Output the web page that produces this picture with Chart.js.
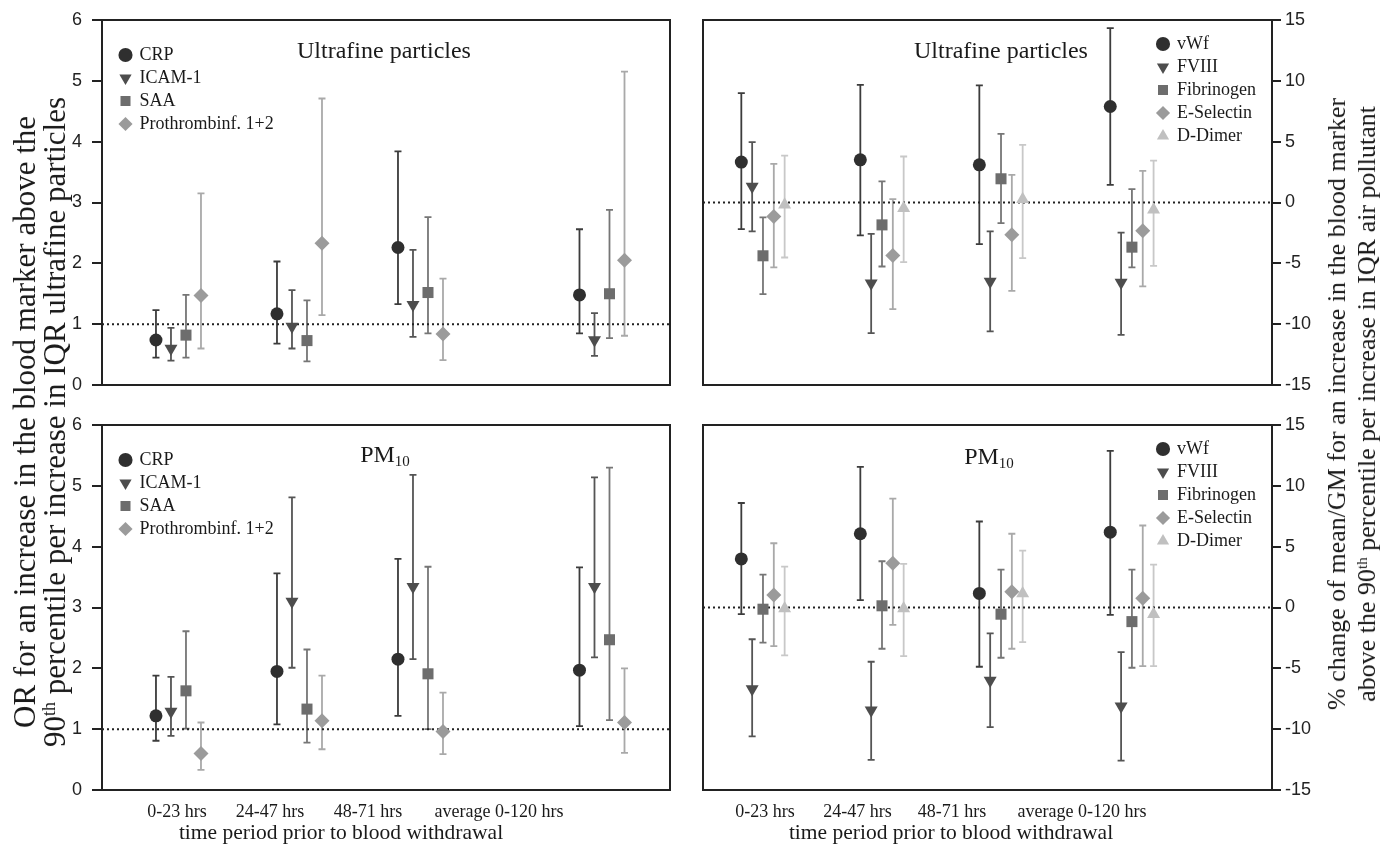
<!DOCTYPE html>
<html>
<head>
<meta charset="utf-8">
<script src="https://cdn.jsdelivr.net/npm/chart.js@4.4.0/dist/chart.umd.min.js"></script>
<style>
  body { margin: 0; background: #fff; width: 1381px; height: 851px; position: relative; overflow: hidden;
         font-family: "Liberation Serif", "Times New Roman", serif; color: #1a1a1a; }
  canvas { position: absolute; }
  .lbl { position: absolute; white-space: nowrap; transform: translate(-50%, -50%); }
  .vt { position: absolute; white-space: nowrap; text-align: center; line-height: 30px;
        transform: translate(-50%, -50%) rotate(-90deg); }
  sub { font-size: 15px; vertical-align: -4px; }
  sup { font-size: 0.58em; vertical-align: 0.55em; line-height: 0; }
</style>
</head>
<body>
<canvas id="tl" width="655" height="415" style="left:40px;top:-5px"></canvas>
<canvas id="tr" width="662" height="415" style="left:678px;top:-5px"></canvas>
<canvas id="bl" width="655" height="435" style="left:40px;top:400px"></canvas>
<canvas id="br" width="662" height="435" style="left:678px;top:400px"></canvas>

<div class="lbl" style="left:384px;top:50px;font-size:24px">Ultrafine particles</div>
<div class="lbl" style="left:1001px;top:50px;font-size:24px">Ultrafine particles</div>
<div class="lbl" style="left:385px;top:455px;font-size:24px">PM<sub>10</sub></div>
<div class="lbl" style="left:989px;top:457px;font-size:24px">PM<sub>10</sub></div>

<div class="lbl" style="left:341px;top:832px;font-size:21.5px">time period prior to blood withdrawal</div>
<div class="lbl" style="left:951px;top:832px;font-size:21.5px">time period prior to blood withdrawal</div>

<div class="vt" style="left:40px;top:422px;font-size:31px">OR for an increase in the blood marker above the<br>90<sup>th</sup> percentile per increase in IQR ultrafine particles</div>
<div class="vt" style="left:1352px;top:404px;font-size:26px">% change of mean/GM for an increase in the blood marker<br>above the 90<sup>th</sup> percentile per increase in IQR air pollutant</div>

<script>
// time periods (x axis)
const periodLabels = ['0-23 hrs', '24-47 hrs', '48-71 hrs', 'average 0-120 hrs'];
const groupsL = [1, 2, 3, 4.5];
const groupsR = [1, 2, 3, 4.1];
const labelPosL = [0.988, 1.756, 2.566, 3.649];
const labelPosR = [1.017, 1.794, 2.588, 3.681];

const namesL = ['CRP', 'ICAM-1', 'SAA', 'Prothrombinf. 1+2'];
const namesR = ['vWf', 'FVIII', 'Fibrinogen', 'E-Selectin', 'D-Dimer'];

// [estimate, lower, upper] per time period
// ultrafine particles, OR
const ufpCRP  = [[0.74, 0.45, 1.23], [1.17, 0.68, 2.03], [2.26, 1.33, 3.84], [1.48, 0.85, 2.56]];
const ufpICAM = [[0.60, 0.40, 0.94], [0.96, 0.60, 1.56], [1.32, 0.79, 2.22], [0.74, 0.48, 1.18]];
const ufpSAA  = [[0.82, 0.45, 1.48], [0.73, 0.39, 1.39], [1.52, 0.85, 2.76], [1.50, 0.77, 2.88]];
const ufpPro  = [[1.47, 0.60, 3.15], [2.33, 1.15, 4.71], [0.84, 0.41, 1.75], [2.05, 0.81, 5.15]];
// ultrafine particles, % change
const ufpVWF  = [[3.32, -2.19, 8.99], [3.51, -2.71, 9.67], [3.10, -3.42, 9.62], [7.89, 1.45, 14.33]];
const ufpFVIII= [[1.32, -2.38, 4.96], [-6.63, -10.74, -2.58], [-6.49, -10.60, -2.38], [-6.58, -10.88, -2.47]];
const ufpFib  = [[-4.38, -7.53, -1.23], [-1.84, -5.26, 1.73], [1.95, -1.70, 5.64], [-3.67, -5.34, 1.10]];
const ufpESel = [[-1.15, -5.34, 3.18], [-4.36, -8.77, 0.27], [-2.66, -7.26, 2.27], [-2.33, -6.90, 2.60]];
const ufpDD   = [[-0.19, -4.52, 3.86], [-0.47, -4.90, 3.78], [0.27, -4.58, 4.74], [-0.60, -5.21, 3.45]];
// PM10, OR
const pmCRP   = [[1.22, 0.81, 1.88], [1.95, 1.08, 3.56], [2.15, 1.22, 3.80], [1.97, 1.05, 3.66]];
const pmICAM  = [[1.29, 0.89, 1.86], [3.10, 2.01, 4.81], [3.34, 2.15, 5.18], [3.34, 2.18, 5.14]];
const pmSAA   = [[1.63, 1.01, 2.61], [1.33, 0.78, 2.31], [1.91, 1.00, 3.67], [2.47, 1.15, 5.30]];
const pmPro   = [[0.60, 0.33, 1.11], [1.14, 0.67, 1.88], [0.96, 0.59, 1.60], [1.11, 0.61, 2.00]];
// PM10, % change
const pmVWF   = [[3.99, -0.55, 8.59], [6.06, 0.61, 11.56], [1.16, -4.87, 7.07], [6.19, -0.61, 12.88]];
const pmFVIII = [[-6.69, -10.60, -2.61], [-8.45, -12.52, -4.46], [-6.00, -9.83, -2.12], [-8.12, -12.58, -3.66]];
const pmFib   = [[-0.14, -2.89, 2.70], [0.14, -3.39, 3.80], [-0.55, -4.13, 3.11], [-1.16, -4.95, 3.11]];
const pmESel  = [[1.02, -3.17, 5.28], [3.63, -1.43, 8.95], [1.29, -3.39, 6.06], [0.77, -4.82, 6.74]];
const pmDD    = [[-0.08, -3.94, 3.36], [-0.08, -3.99, 3.58], [1.16, -2.84, 4.68], [-0.55, -4.82, 3.52]];

// marker look per series
const stylesL = [
  { style: 'circle', rot: 0, r: 6.5, color: '#2f2f2f', err: '#3c3c3c' },
  { style: 'triangle', rot: 180, r: 7.5, color: '#4d4d4d', err: '#555555' },
  { style: 'rect', rot: 0, r: 7.8, color: '#6d6d6d', err: '#767676' },
  { style: 'rectRot', rot: 0, r: 7.5, color: '#9b9b9b', err: '#a9a9a9' }
];
const stylesR = [
  { style: 'circle', rot: 0, r: 6.5, color: '#2f2f2f', err: '#3c3c3c' },
  { style: 'triangle', rot: 180, r: 7.5, color: '#4d4d4d', err: '#555555' },
  { style: 'rect', rot: 0, r: 7.8, color: '#6d6d6d', err: '#767676' },
  { style: 'rectRot', rot: 0, r: 7.5, color: '#9b9b9b', err: '#a9a9a9' },
  { style: 'triangle', rot: 0, r: 7.5, color: '#c0c0c0', err: '#c8c8c8' }
];
const offsetsL = [-0.186, -0.062, 0.062, 0.186];
const offsetsR = [-0.182, -0.091, 0, 0.091, 0.182];

const errorBars = {
  id: 'errorBars',
  beforeDatasetsDraw(chart) {
    const { ctx, scales: { x, y } } = chart;
    ctx.save();
    ctx.lineWidth = 1.8;
    chart.data.datasets.forEach(ds => {
      if (!ds.errLo) return;
      ctx.strokeStyle = ds.errColor;
      ds.data.forEach((p, j) => {
        const px = x.getPixelForValue(p.x);
        const y1 = y.getPixelForValue(ds.errLo[j]);
        const y2 = y.getPixelForValue(ds.errHi[j]);
        ctx.beginPath();
        ctx.moveTo(px, y1); ctx.lineTo(px, y2);
        ctx.moveTo(px - 3.5, y1); ctx.lineTo(px + 3.5, y1);
        ctx.moveTo(px - 3.5, y2); ctx.lineTo(px + 3.5, y2);
        ctx.stroke();
      });
    });
    ctx.restore();
  }
};

const frame = {
  id: 'frame',
  beforeDatasetsDraw(chart) {
    const { ctx, chartArea: a } = chart;
    ctx.save();
    ctx.strokeStyle = '#222';
    ctx.lineWidth = 2;
    ctx.strokeRect(a.left, a.top, a.right - a.left, a.bottom - a.top);
    ctx.restore();
  }
};

// put the legend inside the plot, top left or top right
const legendPlace = {
  id: 'legendPlace',
  afterLayout(chart, args, opts) {
    const lg = chart.legend, ca = chart.chartArea;
    if (!lg) return;
    const w = lg.width;
    lg.left = opts.side === 'right' ? ca.right - opts.dx : ca.left + opts.dx;
    lg.top = ca.top + opts.dy;
    lg.right = lg.left + w;
    lg.bottom = ca.bottom;
  }
};

function makePanel(id, cfg) {
  const datasets = cfg.series.map((vals, k) => {
    const s = cfg.styles[k];
    return {
      type: 'scatter',
      label: cfg.names[k],
      data: vals.map((v, j) => ({ x: cfg.groups[j] + cfg.offsets[k], y: v[0] })),
      errLo: vals.map(v => v[1]),
      errHi: vals.map(v => v[2]),
      errColor: s.err,
      pointStyle: s.style,
      pointRotation: s.rot,
      pointRadius: s.r,
      pointHoverRadius: s.r,
      backgroundColor: s.color,
      borderColor: s.color,
      borderWidth: 0
    };
  });
  datasets.push({
    type: 'line', label: 'ref',
    data: [{ x: cfg.xMin, y: cfg.ref }, { x: cfg.xMax, y: cfg.ref }],
    borderColor: '#222', borderWidth: 2, borderDash: [2, 3],
    pointRadius: 0, fill: false
  });

  new Chart(document.getElementById(id), {
    type: 'scatter',
    data: { datasets },
    plugins: [errorBars, frame, legendPlace],
    options: {
      responsive: false,
      animation: false,
      devicePixelRatio: 1,
      layout: { padding: cfg.padding },
      plugins: {
        tooltip: { enabled: false },
        legend: {
          position: 'chartArea',
          align: 'start',
          labels: {
            usePointStyle: true, boxWidth: 10, boxHeight: 10, padding: 5,
            color: '#1a1a1a',
            font: { family: 'Liberation Serif', size: 18 },
            filter: item => item.text !== 'ref'
          }
        },
        legendPlace: cfg.legend
      },
      scales: {
        x: {
          type: 'linear', min: cfg.xMin, max: cfg.xMax,
          display: cfg.showX,
          grid: { display: false, drawTicks: false },
          border: { display: false },
          afterBuildTicks: s => { s.ticks = cfg.labelPos.map(v => ({ value: v })); },
          afterFit: s => { s.height = cfg.showX ? 45 : 0; },
          ticks: {
            autoSkip: false, maxRotation: 0, padding: 11,
            color: '#1a1a1a',
            font: { family: 'Liberation Serif', size: 18 },
            callback: (v, i) => periodLabels[i]
          }
        },
        y: {
          position: cfg.yPos, min: cfg.yMin, max: cfg.yMax,
          afterFit: s => { s.width = cfg.yWidth; },
          grid: { drawOnChartArea: false, drawTicks: true, tickLength: cfg.tickLen, color: '#222', lineWidth: 2 },
          border: { display: false },
          ticks: {
            stepSize: cfg.step, padding: cfg.tickPad, color: '#222',
            font: { family: 'Liberation Sans', size: 18 }
          }
        }
      }
    }
  });
}

const leftBase = {
  names: namesL, styles: stylesL, offsets: offsetsL, groups: groupsL, labelPos: labelPosL,
  xMin: 0.368, xMax: 5.062, ref: 1, yMin: 0, yMax: 6, step: 1,
  yPos: 'left', yWidth: 62, tickLen: 10, tickPad: 10,
  legend: { side: 'left', dx: 13.5, dy: 21 }
};
const rightBase = {
  names: namesR, styles: stylesR, offsets: offsetsR, groups: groupsR, labelPos: labelPosR,
  xMin: 0.496, xMax: 5.277, ref: 0, yMin: -15, yMax: 15, step: 5,
  yPos: 'right', yWidth: 68, tickLen: 9, tickPad: 4,
  legend: { side: 'right', dx: 119, dy: 10 }
};

makePanel('tl', { ...leftBase, series: [ufpCRP, ufpICAM, ufpSAA, ufpPro], showX: false,
  padding: { top: 25, right: 25, bottom: 25, left: 0 } });
makePanel('bl', { ...leftBase, series: [pmCRP, pmICAM, pmSAA, pmPro], showX: true,
  padding: { top: 25, right: 25, bottom: 0, left: 0 } });
makePanel('tr', { ...rightBase, series: [ufpVWF, ufpFVIII, ufpFib, ufpESel, ufpDD], showX: false,
  padding: { top: 25, right: 0, bottom: 25, left: 25 } });
makePanel('br', { ...rightBase, series: [pmVWF, pmFVIII, pmFib, pmESel, pmDD], showX: true,
  padding: { top: 25, right: 0, bottom: 0, left: 25 } });
</script>
</body>
</html>
